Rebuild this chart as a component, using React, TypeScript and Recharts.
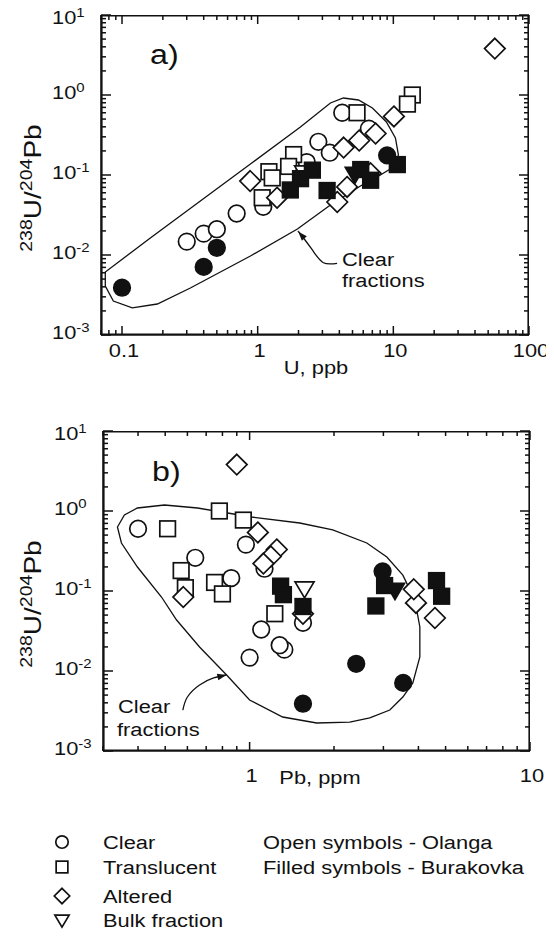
import React from 'react';
import { ScatterChart, Scatter, XAxis, YAxis, Curve } from 'recharts';

const FONT = '"Liberation Sans", Arial, Helvetica, sans-serif';
const INK = '#111';
const SX = 1.15; // the scanned lettering is a bit wider than Arial

// Olanga (open symbols): U in ppb (panel a), Pb in ppm (panel b), 238U/204Pb
const clearU = [0.3, 0.4, 0.5, 0.7, 1.1, 2.3, 2.8, 3.4, 4.2, 6.6];
const clearPb = [1.0, 1.33, 1.28, 1.1, 1.55, 0.86, 0.64, 1.13, 0.4, 0.97];
const clearRatio = [0.0147, 0.0185, 0.021, 0.033, 0.04, 0.145, 0.26, 0.19, 0.6, 0.38];

const translucentU = [13.8, 12.7, 5.4, 1.84, 1.69, 1.21, 1.28, 1.08];
const translucentPb = [0.78, 0.95, 0.51, 0.57, 0.75, 0.59, 0.8, 1.23];
const translucentRatio = [1.0, 0.77, 0.6, 0.18, 0.128, 0.11, 0.092, 0.052];

const alteredU = [56, 10.1, 7.4, 5.6, 4.3, 0.88, 1.39, 4.56, 3.86, 6.8];
const alteredPb = [0.9, 1.07, 1.25, 1.19, 1.12, 0.58, 1.55, 3.92, 4.58, 3.85];
const alteredRatio = [3.8, 0.54, 0.33, 0.27, 0.22, 0.084, 0.052, 0.071, 0.046, 0.105];

const bulkU = [2.2];
const bulkPb = [1.57];
const bulkRatio = [0.108];

// Burakovka (filled symbols)
const burClearU = [0.1, 0.4, 0.5, 9.0];
const burClearPb = [1.55, 3.53, 2.4, 2.98];
const burClearRatio = [0.0039, 0.0071, 0.0123, 0.176];

const burTransU = [10.7, 6.8, 1.74, 3.25, 5.75, 2.53, 2.07];
const burTransPb = [4.64, 4.84, 2.82, 1.55, 3.03, 1.29, 1.32];
const burTransRatio = [0.135, 0.086, 0.065, 0.064, 0.117, 0.115, 0.09];

const burBulkU = [5.2];
const burBulkPb = [3.3];
const burBulkRatio = [0.103];

// "Clear fractions" envelopes and their pointer arrows
const envAU = [0.0753, 0.0753, 0.1617, 0.378, 0.884, 2.065, 3.437, 4.285, 5.53, 7.01, 8.89, 10.36, 10.9, 10.02, 8.03, 5.72, 3.437, 1.963, 0.884, 0.319, 0.182, 0.119, 0.0863];
const envARatio = [0.0041, 0.00613, 0.01631, 0.0473, 0.1373, 0.398, 0.794, 0.917, 0.866, 0.688, 0.46, 0.29, 0.178, 0.126, 0.1, 0.0729, 0.0422, 0.0211, 0.00972, 0.00387, 0.00244, 0.00218, 0.00266];
const arrowAU = [3.85, 3.05, 2.53, 2.065, 1.995];
const arrowARatio = [0.00787, 0.00801, 0.01155, 0.0183, 0.01955];

const envBPb = [0.3378, 0.3577, 0.398, 0.497, 0.652, 0.794, 1.017, 1.509, 1.979, 2.618, 3.086, 3.52, 3.885, 4.047, 4.047, 3.82, 3.52, 3.162, 2.683, 2.276, 1.735, 1.312, 1.0, 0.828, 0.663, 0.549, 0.485, 0.398, 0.349];
const envBRatio = [0.631, 0.891, 1.09, 1.189, 1.09, 0.972, 0.841, 0.708, 0.579, 0.398, 0.266, 0.158, 0.0772, 0.0355, 0.01496, 0.00708, 0.00473, 0.00325, 0.00259, 0.0023, 0.00224, 0.00266, 0.00434, 0.00891, 0.01995, 0.0434, 0.0841, 0.1995, 0.398];
const arrowBPb = [0.578, 0.6, 0.663, 0.744, 0.826];
const arrowBRatio = [0.00325, 0.00473, 0.00668, 0.00818, 0.00891];

const zip = (xs: number[], ys: number[]) => xs.map((x, i) => ({ x, y: ys[i] }));

function decadeTicks(lo: number, hi: number) {
  const out: number[] = [];
  for (let d = lo; d < hi * 0.999; d *= 10) {
    for (let m = 1; m <= 9; m++) out.push(+(m * d).toPrecision(2));
  }
  out.push(hi);
  return out;
}
const isDecade = (v: number) => Math.abs(Math.log10(v) - Math.round(Math.log10(v))) < 1e-6;

const yDomain = [0.001, 10];
const yTicks = decadeTicks(0.001, 10);
const xTicksA = decadeTicks(0.01, 100).filter((v) => v >= 0.07);
const xTicksB = decadeTicks(0.1, 10).filter((v) => v >= 0.3);

// recharts puts tick text 8px off the axis line (tickSize 6 + tickMargin 2)
const OFF = 8;
const TICK_W = 1.5;

type Kind = 'circle' | 'square' | 'diamond' | 'triangle';

const Marker = ({ cx, cy, kind, filled, s = 1 }: any) => {
  const st = { fill: filled ? INK : '#fff', stroke: INK, strokeWidth: 1.7 };
  if (kind === 'circle') return <circle cx={cx} cy={cy} r={8.3 * s} {...st} />;
  if (kind === 'square') {
    const h = 7.8 * s;
    return <rect x={cx - h} y={cy - h} width={2 * h} height={2 * h} {...st} />;
  }
  if (kind === 'diamond') {
    const d = 10.3 * s;
    return <polygon points={`${cx},${cy - d} ${cx + d},${cy} ${cx},${cy + d} ${cx - d},${cy}`} {...st} />;
  }
  const w = 9.5 * s;
  return <polygon points={`${cx - w},${cy - 6.5 * s} ${cx + w},${cy - 6.5 * s} ${cx},${cy + 9.5 * s}`} {...st} />;
};

const T = ({ x, y, size = 19, anchor = 'start', rotate = 0, sx = SX, children }: any) => (
  <text
    transform={`translate(${x} ${y}) rotate(${rotate}) scale(${sx} 1)`}
    fontSize={size}
    fontFamily={FONT}
    textAnchor={anchor}
    fill={INK}
  >
    {children}
  </text>
);

// inward tick on the bottom edge plus its mirror on the top edge
const XTick = ({ x, y, payload, plotH, labelDy }: any) => {
  const v = payload.value;
  const major = isDecade(v);
  const len = major ? 9 : 5;
  const ay = y - OFF;
  return (
    <g>
      <line x1={x} y1={ay} x2={x} y2={ay - len} stroke={INK} strokeWidth={TICK_W} />
      <line x1={x} y1={ay - plotH} x2={x} y2={ay - plotH + len} stroke={INK} strokeWidth={TICK_W} />
      {major && <T x={x + 2} y={ay + labelDy} anchor="middle">{String(v)}</T>}
    </g>
  );
};

// inward tick on the left edge plus its mirror on the right edge
const YTick = ({ x, y, payload, plotW }: any) => {
  const v = payload.value;
  const major = isDecade(v);
  const len = major ? 10 : 5;
  const ax = x + OFF;
  const top = v >= 9.99;
  return (
    <g>
      <line x1={ax} y1={y} x2={ax + len} y2={y} stroke={INK} strokeWidth={TICK_W} />
      <line x1={ax + plotW} y1={y} x2={ax + plotW - len} y2={y} stroke={INK} strokeWidth={TICK_W} />
      {major && (
        <T x={ax - 49} y={y + (top ? 9 : 4)}>
          10<tspan fontSize={13} dy={-7}>{String(Math.round(Math.log10(v)))}</tspan>
        </T>
      )}
    </g>
  );
};

const arrowLine = (p: any) => {
  const pts = p.points || [];
  if (pts.length < 2) return <g />;
  const a = pts[pts.length - 2];
  const b = pts[pts.length - 1];
  const ang = Math.atan2(b.y - a.y, b.x - a.x);
  const L = 9;
  const W = 3.3;
  const bx = b.x - L * Math.cos(ang);
  const by = b.y - L * Math.sin(ang);
  const head = `${b.x},${b.y} ${bx + W * Math.sin(ang)},${by - W * Math.cos(ang)} ${bx - W * Math.sin(ang)},${by + W * Math.cos(ang)}`;
  return (
    <g>
      <Curve points={pts} type="natural" stroke={INK} strokeWidth={1.3} fill="none" />
      <polygon points={head} fill={INK} />
    </g>
  );
};

const none = () => <g />;

function Panel({ series, envelope, arrow, xDomain, xTicks, height, margin, yWidth, plotW, labelDy }: any) {
  const frame = [
    { x: xDomain[0], y: yDomain[0] },
    { x: xDomain[1], y: yDomain[0] },
    { x: xDomain[1], y: yDomain[1] },
    { x: xDomain[0], y: yDomain[1] },
  ];
  return (
    <ScatterChart width={546} height={height} margin={margin}>
      <XAxis
        dataKey="x"
        type="number"
        scale="log"
        domain={xDomain}
        ticks={xTicks}
        interval={0}
        allowDataOverflow
        axisLine={{ stroke: INK, strokeWidth: 1.6 }}
        tickLine={{ stroke: 'none' }}
        height={45}
        tick={(p: any) => <XTick {...p} plotH={320} labelDy={labelDy} />}
      />
      <YAxis
        dataKey="y"
        type="number"
        scale="log"
        domain={yDomain}
        ticks={yTicks}
        interval={0}
        allowDataOverflow
        axisLine={{ stroke: INK, strokeWidth: 1.6 }}
        tickLine={{ stroke: 'none' }}
        width={yWidth}
        tick={(p: any) => <YTick {...p} plotW={plotW} />}
      />
      <Scatter data={frame} fill={INK} line={{ stroke: INK, strokeWidth: 3.2 }} lineType="joint" lineJointType="linearClosed" shape={none} isAnimationActive={false} />
      <Scatter data={envelope} fill={INK} line={{ stroke: INK, strokeWidth: 1.3 }} lineType="joint" lineJointType="linearClosed" shape={none} isAnimationActive={false} />
      <Scatter data={arrow} fill={INK} line={arrowLine} lineType="joint" shape={none} isAnimationActive={false} />
      {series.map((s: any, i: number) => (
        <Scatter
          key={i}
          data={s.data}
          isAnimationActive={false}
          shape={(p: any) => <Marker cx={p.cx} cy={p.cy} kind={s.kind} filled={s.filled} />}
        />
      ))}
    </ScatterChart>
  );
}

const seriesA = [
  { kind: 'circle', filled: false, data: zip(clearU, clearRatio) },
  { kind: 'square', filled: false, data: zip(translucentU, translucentRatio) },
  { kind: 'diamond', filled: false, data: zip(alteredU, alteredRatio) },
  { kind: 'triangle', filled: false, data: zip(bulkU, bulkRatio) },
  { kind: 'circle', filled: true, data: zip(burClearU, burClearRatio) },
  { kind: 'square', filled: true, data: zip(burTransU, burTransRatio) },
  { kind: 'triangle', filled: true, data: zip(burBulkU, burBulkRatio) },
];

const seriesB = [
  { kind: 'circle', filled: false, data: zip(clearPb, clearRatio) },
  { kind: 'square', filled: false, data: zip(translucentPb, translucentRatio) },
  { kind: 'diamond', filled: false, data: zip(alteredPb, alteredRatio) },
  { kind: 'triangle', filled: false, data: zip(bulkPb, bulkRatio) },
  { kind: 'circle', filled: true, data: zip(burClearPb, burClearRatio) },
  { kind: 'square', filled: true, data: zip(burTransPb, burTransRatio) },
  { kind: 'triangle', filled: true, data: zip(burBulkPb, burBulkRatio) },
];

const legendRows: { kind: Kind; label: string; y: number }[] = [
  { kind: 'circle', label: 'Clear', y: 834 },
  { kind: 'square', label: 'Translucent', y: 859 },
  { kind: 'diamond', label: 'Altered', y: 888 },
  { kind: 'triangle', label: 'Bulk fraction', y: 912 },
];

const YLabel = ({ y }: any) => (
  <T x={33} y={y} rotate={-90} anchor="middle" size={23} sx={1.22}>
    <tspan fontSize={16} dy={-9}>238</tspan>
    <tspan dy={9}>U/</tspan>
    <tspan fontSize={16} dy={-9}>204</tspan>
    <tspan dy={9}>Pb</tspan>
  </T>
);

export default function App() {
  return (
    <div style={{ position: 'relative', width: 538, height: 922, fontFamily: FONT }}>
      <div style={{ position: 'absolute', left: 0, top: -8 }}>
        <Panel
          series={seriesA}
          envelope={zip(envAU, envARatio)}
          arrow={zip(arrowAU, arrowARatio)}
          xDomain={[0.07, 100]}
          xTicks={xTicksA}
          height={388}
          margin={{ top: 15, right: 25, left: 0, bottom: 8 }}
          yWidth={93}
          plotW={428}
          labelDy={22}
        />
      </div>
      <div style={{ position: 'absolute', left: 0, top: 392 }}>
        <Panel
          series={seriesB}
          envelope={zip(envBPb, envBRatio)}
          arrow={zip(arrowBPb, arrowBRatio)}
          xDomain={[0.3, 10]}
          xTicks={xTicksB}
          height={400}
          margin={{ top: 31, right: 24, left: 0, bottom: 4 }}
          yWidth={95}
          plotW={427}
          labelDy={31}
        />
      </div>
      <svg
        width={538}
        height={922}
        style={{ position: 'absolute', left: 0, top: 0, overflow: 'visible', pointerEvents: 'none' }}
      >
        <T x={142} y={56} size={28}>a)</T>
        <T x={144} y={473} size={28}>b)</T>
        <T x={308} y={366} anchor="middle">U, ppb</T>
        <T x={312} y={776} anchor="middle">Pb, ppm</T>
        <YLabel y={180} />
        <YLabel y={596} />
        <T x={334} y={258}>Clear</T>
        <T x={334} y={279}>fractions</T>
        <T x={110} y={705}>Clear</T>
        <T x={109} y={728}>fractions</T>
        {legendRows.map((r) => (
          <g key={r.label}>
            <Marker cx={54} cy={r.y} kind={r.kind} filled={false} s={0.75} />
            <T x={95} y={r.y + 7}>{r.label}</T>
          </g>
        ))}
        <T x={255} y={841}>Open symbols - Olanga</T>
        <T x={255} y={866}>Filled symbols - Burakovka</T>
      </svg>
    </div>
  );
}
